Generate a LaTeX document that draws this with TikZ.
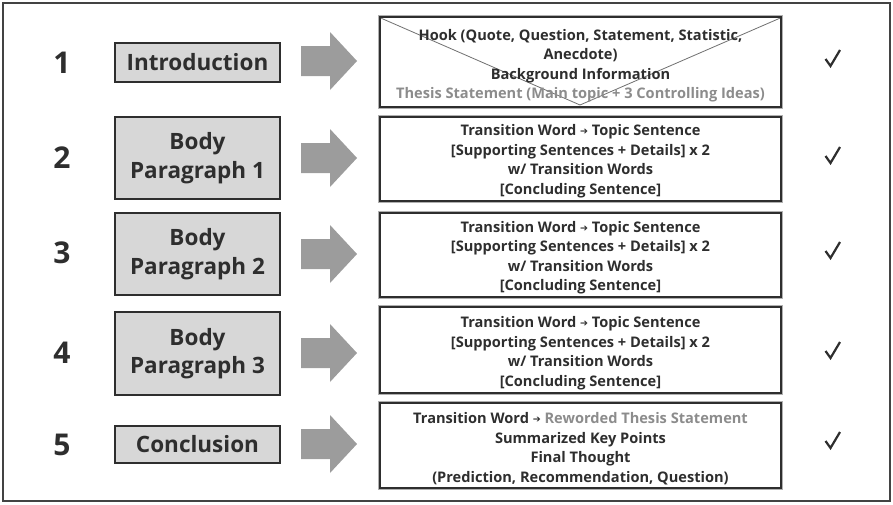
\documentclass[tikz,border=0pt]{standalone}
\usepackage{fontspec}
\setmainfont{Open Sans}
\newfontfamily\symfont{DejaVu Sans}
\usetikzlibrary{calc}
\definecolor{ink}{HTML}{2E2E2E}
\definecolor{boxfill}{HTML}{D7D7D7}
\definecolor{arrowgray}{HTML}{9C9C9C}
\definecolor{softgray}{HTML}{8C8C8C}
\definecolor{rimgray}{HTML}{B0B0B0}
\newcommand{\tarr}{{\symfont\fontsize{9.5}{9.5}\selectfont\raisebox{1pt}{➔}}}
\tikzset{
  stepnum/.style={font=\bfseries\fontsize{30}{30}\selectfont, text=ink},
  partbox/.style={draw=ink, line width=1.4pt, fill=boxfill, text=ink,
    minimum width=165pt, align=center, inner sep=0pt,
    font=\bfseries\fontsize{22.5}{28.5}\selectfont},
  detailbox/.style={draw=ink, line width=1.5pt, fill=white,
    minimum width=401pt, inner sep=0pt},
  detailtext/.style={text=ink, align=center, inner sep=0pt,
    font=\bfseries\fontsize{14.6}{19.5}\selectfont},
  rim/.style={draw=rimgray, line width=3.6pt},
  tick/.style={draw=ink, line width=2.2pt, line join=miter},
  blockarrow/.style={fill=arrowgray},
}
\newcommand{\blockarrow}[1]{%
  \fill[blockarrow] ($(#1)+(-28,-15)$) -- ($(#1)+(1,-15)$) -- ($(#1)+(1,-29)$)
    -- ($(#1)+(28,0)$) -- ($(#1)+(1,29)$) -- ($(#1)+(1,15)$) -- ($(#1)+(-28,15)$) -- cycle;}
\newcommand{\checkmark}[1]{%
  \draw[tick] ($(#1)+(-6.5,0)$) -- ($(#1)+(-1.5,7)$) -- ($(#1)+(8,-9)$);}
\begin{document}
\begin{tikzpicture}[x=1pt,y=-1pt]
  \useasboundingbox (0,0) rectangle (893,504);
  % outer frame
  \draw[draw=ink!90, line width=2pt] (3,3) rectangle (890,501);

  % step numbers
  \node[stepnum] (n1) at (62,63) {1};
  \node[stepnum] (n2) at (62,158) {2};
  \node[stepnum] (n3) at (62,253) {3};
  \node[stepnum] (n4) at (62,353) {4};
  \node[stepnum] (n5) at (62,445) {5};

  % essay parts
  \node[partbox, minimum height=39pt] (p1) at (197.5,62.5) {Introduction};
  \node[partbox, minimum height=82pt] (p2) at (197.5,158) {Body\\Paragraph 1};
  \node[partbox, minimum height=82pt] (p3) at (197.5,254) {Body\\Paragraph 2};
  \node[partbox, minimum height=83pt] (p4) at (197.5,353.5) {Body\\Paragraph 3};
  \node[partbox, minimum height=37pt] (p5) at (197.5,444.5) {Conclusion};

  % block arrows
  \coordinate (a1) at (329,61);
  \coordinate (a2) at (329,158);
  \coordinate (a3) at (329,254);
  \coordinate (a4) at (329,353);
  \coordinate (a5) at (329,444);
  \foreach \a in {a1,a2,a3,a4,a5} {\blockarrow{\a}}

  % detail boxes (soft rim first)
  \foreach \cy/\h in {62/90,159/84,255/84,350/86,445.5/85}
    \draw[rim] (380,\cy-\h/2) rectangle (781,\cy+\h/2);

  \node[detailbox, minimum height=90pt] (d1) at (580.5,62) {};
  \node[detailbox, minimum height=84pt] (d2) at (580.5,159) {};
  \node[detailbox, minimum height=84pt] (d3) at (580.5,255) {};
  \node[detailbox, minimum height=86pt] (d4) at (580.5,350) {};
  \node[detailbox, minimum height=85pt] (d5) at (580.5,445.5) {};

  % fold lines across the first box
  \draw[softgray!80!black, line width=0.8pt]
    ([shift={(2,2)}]d1.north west) -- (580,105) -- ([shift={(-2,2)}]d1.north east);

  \node[detailtext] (t1) at ([yshift=-3.5]d1.center)
    {Hook (Quote, Question, Statement, Statistic,\\Anecdote)\\Background Information\\
    \textcolor{softgray}{Thesis Statement (Main topic + 3 Controlling Ideas)}};
  \node[detailtext] (t2) at ([yshift=-2]d2.center)
    {Transition Word \tarr{} Topic Sentence\\{[Supporting Sentences + Details] x 2}\\w/ Transition Words\\{[Concluding Sentence]}};
  \node[detailtext] (t3) at ([yshift=-2.5]d3.center)
    {Transition Word \tarr{} Topic Sentence\\{[Supporting Sentences + Details] x 2}\\w/ Transition Words\\{[Concluding Sentence]}};
  \node[detailtext] (t4) at ([yshift=-3]d4.center)
    {Transition Word \tarr{} Topic Sentence\\{[Supporting Sentences + Details] x 2}\\w/ Transition Words\\{[Concluding Sentence]}};
  \node[detailtext] (t5) at ([yshift=-3]d5.center)
    {Transition Word \tarr{} \textcolor{softgray}{Reworded Thesis Statement}\\Summarized Key Points\\Final Thought\\(Prediction, Recommendation, Question)};

  % check marks
  \coordinate (c1) at (832,59);
  \coordinate (c2) at (832,156);
  \coordinate (c3) at (832,251);
  \coordinate (c4) at (832,351);
  \coordinate (c5) at (832,441);
  \foreach \c in {c1,c2,c3,c4,c5} {\checkmark{\c}}
\end{tikzpicture}
\end{document}
